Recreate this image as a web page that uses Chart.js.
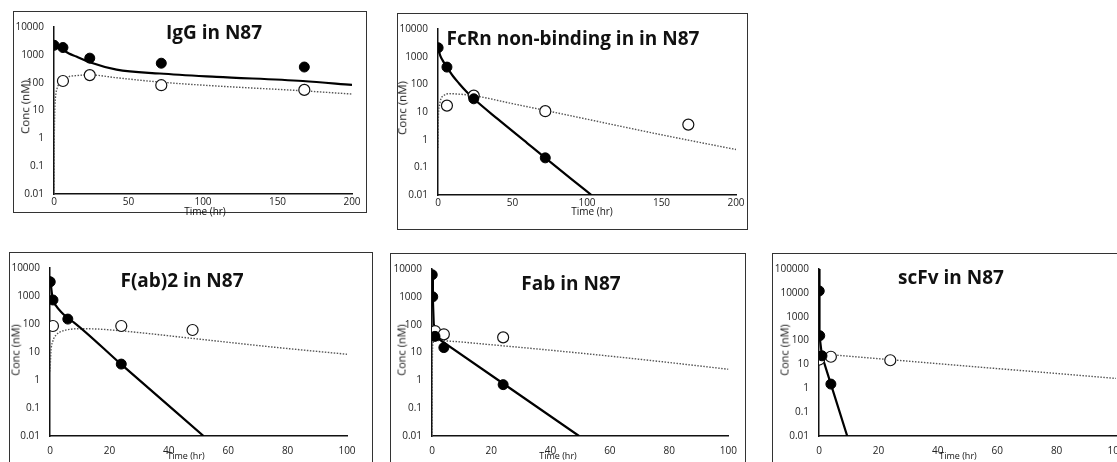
<!DOCTYPE html>
<html><head><meta charset="utf-8">
<script src="https://cdn.jsdelivr.net/npm/chart.js@4.4.1/dist/chart.umd.min.js"></script>
<style>
html,body{margin:0;padding:0;background:#fff;width:1117px;height:462px;overflow:hidden;position:relative;font-family:"Open Sans",sans-serif;}
.box{position:absolute;border:1.5px solid #333;box-sizing:border-box;}
canvas{position:absolute;}
.t{position:absolute;white-space:nowrap;color:#111;line-height:1;}
.title{font-weight:700;font-size:19px;transform:translate(-50%,-50%);}
.ylab{transform:translate(-50%,-50%) rotate(-90deg);}
.xlab{transform:translate(-50%,-50%);}
</style></head><body>
<script>
// ---------- tick labels ----------
const yTicks4 = [0.01, 0.1, 1, 10, 100, 1000, 10000];
const yTicks5 = [0.01, 0.1, 1, 10, 100, 1000, 10000, 100000];
const xTicks200 = [0, 50, 100, 150, 200];
const xTicks100 = [0, 20, 40, 60, 80, 100];

// ---------- IgG in N87 ----------
const iggPlasmaT = [0.08, 6, 24, 72, 168];
const iggPlasmaC = [2200, 1830, 760, 500, 365];
const iggTumorT = [6, 24, 72, 168];
const iggTumorC = [115, 187, 81, 55];
const iggFitPlasmaT = [0, 2, 6, 10, 15, 24, 42, 71, 109, 167, 200];
const iggFitPlasmaC = [2100, 1800, 1480, 1120, 870, 540, 295, 213, 162, 115, 83];
const iggFitTumorT = [0, 0.2, 0.5, 1, 2, 4, 6, 10, 15, 24, 42, 71, 109, 167, 200];
const iggFitTumorC = [0.01, 1, 10, 30, 60, 100, 130, 165, 180, 190, 150, 105, 76, 51, 39];

// ---------- FcRn non-binding in N87 ----------
const fcrnPlasmaT = [0.08, 6, 24, 72];
const fcrnPlasmaC = [2100, 420, 30, 0.22];
const fcrnTumorT = [6, 24, 72, 168];
const fcrnTumorC = [17, 39, 10.7, 3.5];
const fcrnFitPlasmaT = [0, 1.5, 3, 6, 10, 14, 19, 24, 40, 60, 72, 90, 103];
const fcrnFitPlasmaC = [2100, 1100, 750, 420, 200, 110, 55, 30, 5.6, 0.74, 0.22, 0.036, 0.01];
const fcrnFitTumorT = [0, 0.3, 1, 2, 4, 7, 12, 24, 50, 72, 100, 150, 200];
const fcrnFitTumorC = [0.5, 8, 18, 30, 40, 46, 45, 39, 20, 11.4, 5.5, 1.5, 0.44];

// ---------- F(ab)2 in N87 ----------
const fab2PlasmaT = [0.08, 1, 6, 24];
const fab2PlasmaC = [3200, 720, 150, 3.7];
const fab2TumorT = [1, 24, 48];
const fab2TumorC = [85, 85, 61];
const fab2FitPlasmaT = [0, 0.3, 0.7, 1.2, 2, 4, 6, 8, 24, 51.7];
const fab2FitPlasmaC = [5000, 2500, 1100, 650, 450, 250, 160, 115, 3.6, 0.01];
const fab2FitTumorT = [0, 0.3, 1, 2, 4, 7, 10, 16, 24, 50, 75, 100];
const fab2FitTumorC = [2, 10, 25, 40, 55, 65, 68, 66, 57, 29, 15, 8.3];

// ---------- Fab in N87 ----------
const fabPlasmaT = [0.08, 0.25, 1, 4, 24];
const fabPlasmaC = [6200, 1000, 38, 15, 0.7];
const fabTumorT = [0.08, 1, 4, 24];
const fabTumorC = [50, 59, 45, 35];
const fabFitPlasmaT = [0, 0.3, 0.6, 1, 24, 49.6];
const fabFitPlasmaC = [6500, 800, 100, 38, 0.77, 0.01];
const fabFitTumorT = [0, 0.1, 0.3, 1, 5, 20, 50, 75, 100];
const fabFitTumorC = [0.01, 3, 20, 27, 26, 19, 9.5, 5, 2.5];

// ---------- scFv in N87 ----------
const scfvPlasmaT = [0.08, 0.25, 1, 4];
const scfvPlasmaC = [12000, 160, 23, 1.5];
const scfvTumorT = [0.08, 4, 24];
const scfvTumorC = [16, 21, 15];
const scfvFitPlasmaT = [0, 0.08, 0.25, 1, 4, 9.5];
const scfvFitPlasmaC = [100000, 12000, 160, 23, 1.5, 0.01];
const scfvFitTumorT = [0.1, 25, 50, 75, 100];
const scfvFitTumorC = [28, 15.5, 8.5, 4.7, 2.6];

function pts(t, c) { return t.map((x, i) => ({ x: x, y: c[i] })); }

const panels = [
  { title: 'IgG in N87', box: [13, 11, 354, 202], plot: [54, 23, 352, 194],
    xMax: 200, xTicks: xTicks200, yTicks: yTicks4, xPad: 2, straight: false,
    titlePos: [214, 32], ylabPos: [25, 107, 11.5], xlabPos: [205, 211, 10],
    pT: iggPlasmaT, pC: iggPlasmaC, tT: iggTumorT, tC: iggTumorC,
    fpT: iggFitPlasmaT, fpC: iggFitPlasmaC, ftT: iggFitTumorT, ftC: iggFitTumorC },
  { title: 'FcRn non-binding in in N87', box: [397, 13, 351, 217], plot: [438, 24, 736, 195],
    xMax: 200, xTicks: xTicks200, yTicks: yTicks4, xPad: 2, straight: false,
    titlePos: [573, 38], ylabPos: [402, 108, 11.5], xlabPos: [592, 211, 10],
    pT: fcrnPlasmaT, pC: fcrnPlasmaC, tT: fcrnTumorT, tC: fcrnTumorC,
    fpT: fcrnFitPlasmaT, fpC: fcrnFitPlasmaC, ftT: fcrnFitTumorT, ftC: fcrnFitTumorC },
  { title: 'F(ab)2 in N87', box: [9, 252, 364, 215], plot: [50, 264, 347, 436],
    xMax: 100, xTicks: xTicks100, yTicks: yTicks4, xPad: 9, straight: false,
    titlePos: [182, 280], ylabPos: [15, 350, 11], xlabPos: [186, 455, 9],
    pT: fab2PlasmaT, pC: fab2PlasmaC, tT: fab2TumorT, tC: fab2TumorC,
    fpT: fab2FitPlasmaT, fpC: fab2FitPlasmaC, ftT: fab2FitTumorT, ftC: fab2FitTumorC },
  { title: 'Fab in N87', box: [390, 253, 356, 215], plot: [432, 263, 729, 436],
    xMax: 100, xTicks: xTicks100, yTicks: yTicks4, xPad: 9, straight: true,
    titlePos: [571, 283], ylabPos: [401, 350, 11], xlabPos: [558, 455, 9],
    pT: fabPlasmaT, pC: fabPlasmaC, tT: fabTumorT, tC: fabTumorC,
    fpT: fabFitPlasmaT, fpC: fabFitPlasmaC, ftT: fabFitTumorT, ftC: fabFitTumorC },
  { title: 'scFv in N87', box: [772, 253, 400, 215], plot: [819, 264, 1116, 436],
    xMax: 100, xTicks: xTicks100, yTicks: yTicks5, xPad: 9, straight: true,
    titlePos: [951, 277], ylabPos: [784, 350, 11], xlabPos: [958, 455, 9],
    pT: scfvPlasmaT, pC: scfvPlasmaC, tT: scfvTumorT, tC: scfvTumorC,
    fpT: scfvFitPlasmaT, fpC: scfvFitPlasmaC, ftT: scfvFitTumorT, ftC: scfvFitTumorC }
];

function addText(cls, txt, x, y, size) {
  const d = document.createElement('div');
  d.className = 't ' + cls;
  d.textContent = txt;
  d.style.left = x + 'px';
  d.style.top = y + 'px';
  if (size) d.style.fontSize = size + 'px';
  document.body.appendChild(d);
}

const tickFont = { family: '"Open Sans", sans-serif', size: 10 };

panels.forEach(p => {
  const [bx, by, bw, bh] = p.box;
  const [pl, pt, pr, pb] = p.plot;
  const box = document.createElement('div');
  box.className = 'box';
  Object.assign(box.style, { left: bx + 'px', top: by + 'px', width: bw + 'px', height: bh + 'px' });
  document.body.appendChild(box);

  const cv = document.createElement('canvas');
  cv.width = bw; cv.height = bh;
  Object.assign(cv.style, { left: bx + 'px', top: by + 'px', width: bw + 'px', height: bh + 'px' });
  document.body.appendChild(cv);

  const solidFit = { data: pts(p.fpT, p.fpC), showLine: true, pointRadius: 0, borderColor: '#000',
    borderWidth: 2.2, order: 3 };
  if (p.straight) solidFit.tension = 0; else solidFit.cubicInterpolationMode = 'monotone';

  new Chart(cv.getContext('2d'), {
    type: 'scatter',
    data: {
      datasets: [
        { data: pts(p.pT, p.pC), pointRadius: 5, pointBackgroundColor: '#000', pointBorderColor: '#000',
          pointBorderWidth: 1, showLine: false, order: 1 },
        { data: pts(p.tT, p.tC), pointRadius: 5.5, pointBackgroundColor: '#fff', pointBorderColor: '#111',
          pointBorderWidth: 1.2, showLine: false, order: 2 },
        solidFit,
        { data: pts(p.ftT, p.ftC), showLine: true, pointRadius: 0, borderColor: '#555', borderWidth: 1.4,
          borderDash: [1.5, 1.5], cubicInterpolationMode: 'monotone', order: 4 }
      ]
    },
    options: {
      responsive: false, animation: false, devicePixelRatio: 1,
      layout: { padding: { left: 0, top: pt - by, right: bx + bw - pr, bottom: 0 } },
      plugins: { legend: { display: false }, tooltip: { enabled: false } },
      scales: {
        x: {
          type: 'linear', min: 0, max: p.xMax,
          grid: { display: false, drawTicks: false },
          border: { display: true, color: '#111', width: 1.5 },
          ticks: { font: tickFont, color: '#222', padding: p.xPad, maxRotation: 0 },
          afterBuildTicks: s => { s.ticks = p.xTicks.map(v => ({ value: v })); },
          afterFit: s => { s.height = by + bh - pb; }
        },
        y: {
          type: 'logarithmic', min: p.yTicks[0], max: p.yTicks[p.yTicks.length - 1],
          grid: { display: false, drawTicks: false },
          border: { display: true, color: '#111', width: 1.5 },
          ticks: { font: tickFont, color: '#222', padding: 10, callback: v => String(v) },
          afterBuildTicks: s => { s.ticks = p.yTicks.map(v => ({ value: v })); },
          afterFit: s => { s.width = pl - bx; }
        }
      }
    }
  });

  addText('title', p.title, p.titlePos[0], p.titlePos[1]);
  addText('ylab', 'Conc (nM)', p.ylabPos[0], p.ylabPos[1], p.ylabPos[2]);
  addText('xlab', 'Time (hr)', p.xlabPos[0], p.xlabPos[1], p.xlabPos[2]);
});
</script>
</body></html>
